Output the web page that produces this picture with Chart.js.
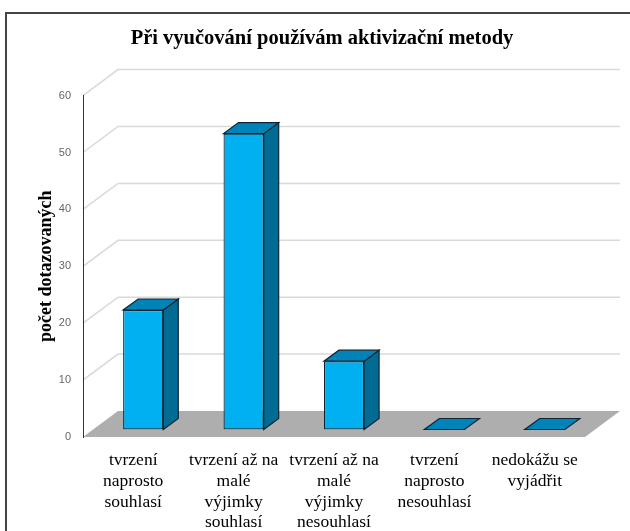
<!DOCTYPE html>
<html lang="cs">
<head>
<meta charset="utf-8">
<title>Při vyučování používám aktivizační metody</title>
<script src="https://cdn.jsdelivr.net/npm/chart.js@4.4.1/dist/chart.umd.min.js"></script>
<style>
  html, body { margin: 0; padding: 0; background: #fff; }
  #wrap { width: 630px; height: 531px; }
</style>
</head>
<body>
<div id="wrap"><canvas id="chart" width="630" height="531"></canvas></div>
<script>
const categories = [
  ['tvrzení', 'naprosto', 'souhlasí'],
  ['tvrzení až na', 'malé', 'výjimky', 'souhlasí'],
  ['tvrzení až na', 'malé', 'výjimky', 'nesouhlasí'],
  ['tvrzení', 'naprosto', 'nesouhlasí'],
  ['nedokážu se', 'vyjádřit']
];
const counts = [21, 52, 12, 0, 0];
const yMin = 0;
const yMax = 60;
const yStep = 10;

// fake 3D: wall depth and where the columns sit inside it
const wallDepth = { dx: 35, dy: -26 };
const barShift = { dx: 10, dy: -7.5 };
const barDepth = { dx: 15, dy: -11 };

const poly = (ctx, pts) => {
  ctx.beginPath();
  ctx.moveTo(pts[0][0], pts[0][1]);
  pts.slice(1).forEach(p => ctx.lineTo(p[0], p[1]));
  ctx.closePath();
};

const pseudo3d = {
  id: 'pseudo3d',
  beforeDraw(chart) {
    const { ctx, chartArea } = chart;
    const yScale = chart.scales.y;
    ctx.save();
    ctx.fillStyle = '#fff';
    ctx.fillRect(0, 0, chart.width, chart.height);

    // outer frame (right / bottom edges fall outside the picture)
    ctx.strokeStyle = '#444';
    ctx.lineWidth = 2;
    ctx.strokeRect(6, 13, chart.width + 20, chart.height + 20);

    // gridlines on side wall and back wall
    ctx.strokeStyle = '#d9d9d9';
    ctx.lineWidth = 1.5;
    yScale.ticks.forEach(t => {
      if (t.value === yMin) return;
      const py = yScale.getPixelForValue(t.value);
      ctx.beginPath();
      ctx.moveTo(chartArea.left, py);
      ctx.lineTo(chartArea.left + wallDepth.dx, py + wallDepth.dy);
      ctx.lineTo(chartArea.right + wallDepth.dx, py + wallDepth.dy);
      ctx.stroke();
    });

    // floor
    const y0 = yScale.getPixelForValue(yMin);
    ctx.fillStyle = '#aeaeae';
    poly(ctx, [
      [chartArea.left, y0],
      [chartArea.right, y0],
      [chartArea.right + wallDepth.dx, y0 + wallDepth.dy],
      [chartArea.left + wallDepth.dx, y0 + wallDepth.dy]
    ]);
    ctx.fill();
    ctx.restore();
  },
  beforeDatasetsDraw(chart) {
    chart.ctx.save();
    chart.ctx.translate(barShift.dx, barShift.dy);
  },
  afterDatasetsDraw(chart) {
    const ctx = chart.ctx;
    ctx.lineWidth = 1.2;
    ctx.strokeStyle = '#0d2433';
    chart.getDatasetMeta(0).data.forEach(bar => {
      const { x, y, base, width } = bar.getProps(['x', 'y', 'base', 'width'], true);
      const l = x - width / 2;
      const r = x + width / 2;
      // side
      if (base - y > 0.5) {
        ctx.fillStyle = '#006b93';
        poly(ctx, [[r, y], [r + barDepth.dx, y + barDepth.dy], [r + barDepth.dx, base + barDepth.dy], [r, base]]);
        ctx.fill();
        ctx.stroke();
      }
      // top
      ctx.fillStyle = '#0083b8';
      poly(ctx, [[l, y], [r, y], [r + barDepth.dx, y + barDepth.dy], [l + barDepth.dx, y + barDepth.dy]]);
      ctx.fill();
      ctx.stroke();
    });
    ctx.restore();
  }
};

new Chart(document.getElementById('chart'), {
  type: 'bar',
  data: {
    labels: categories,
    datasets: [{
      data: counts,
      backgroundColor: '#00b0f0',
      borderColor: '#0d2433',
      borderWidth: 1.2,
      borderSkipped: false,
      categoryPercentage: 1,
      barPercentage: 0.4
    }]
  },
  options: {
    responsive: false,
    animation: false,
    events: [],
    layout: { padding: { left: 33, right: 19, top: 0, bottom: 0 } },
    plugins: {
      legend: { display: false },
      tooltip: { enabled: false },
      title: {
        display: true,
        text: 'Při vyučování používám aktivizační metody',
        color: '#000',
        font: { family: 'Liberation Serif', size: 20.5, weight: 'bold' },
        padding: { top: 26, bottom: 45 }
      }
    },
    scales: {
      x: {
        grid: { display: false, drawTicks: false },
        border: { display: false },
        ticks: {
          color: '#000',
          autoSkip: false,
          maxRotation: 0,
          minRotation: 0,
          padding: 13,
          font: { family: 'Liberation Serif', size: 17.5, lineHeight: 1.19 }
        },
        afterFit(s) {
          s.height = 94;
        }
      },
      y: {
        min: yMin,
        max: yMax,
        grid: { display: false, drawTicks: false },
        border: { display: true, color: '#333', width: 1 },
        ticks: {
          stepSize: yStep,
          color: '#666',
          padding: 12,
          font: { family: 'Liberation Sans', size: 11 }
        },
        title: {
          display: true,
          text: 'počet dotazovaných',
          color: '#000',
          font: { family: 'Liberation Serif', size: 18, weight: 'bold' },
          padding: { top: 3, bottom: 0 }
        },
        afterFit(s) {
          s.width = 50;
        }
      },
      // empty right-hand spacer so the plot ends where the reference's does
      spacer: {
        type: 'linear',
        position: 'right',
        display: true,
        grid: { display: false, drawTicks: false },
        border: { display: false },
        ticks: { display: false },
        afterFit(s) {
          s.width = 26;
        }
      }
    }
  },
  plugins: [pseudo3d]
});
</script>
</body>
</html>
